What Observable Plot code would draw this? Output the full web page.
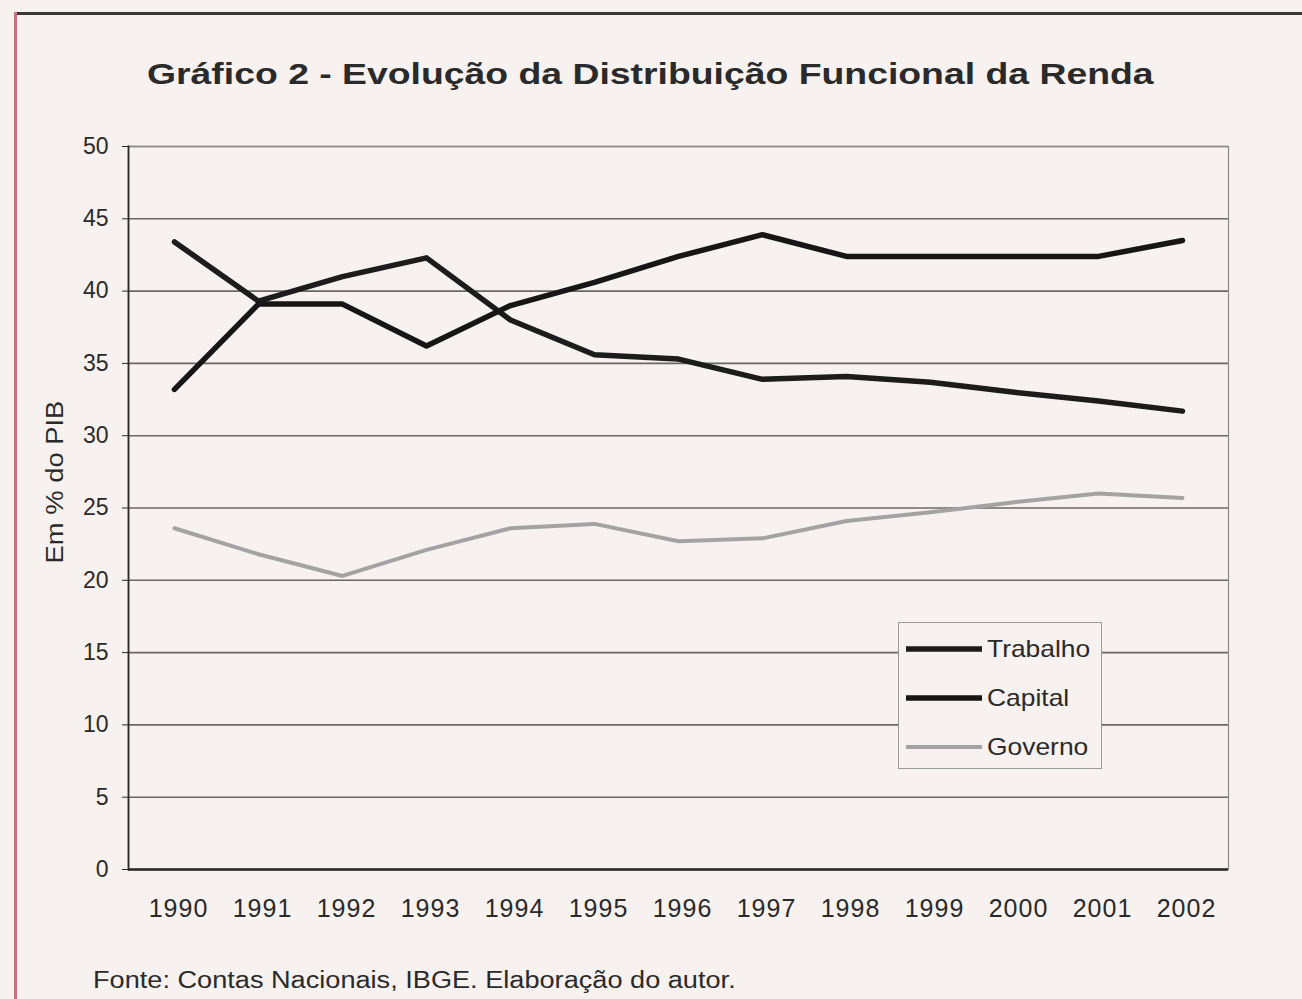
<!DOCTYPE html>
<html>
<head>
<meta charset="utf-8">
<script src="https://cdn.jsdelivr.net/npm/d3@7"></script>
<script src="https://cdn.jsdelivr.net/npm/@observablehq/plot@0.6"></script>
<style>
  html, body { margin: 0; padding: 0; background: #f7f1f0; }
  body { width: 1302px; height: 999px; position: relative; overflow: hidden; font-family: "Liberation Sans", Arial, sans-serif; color: #222; }
  #chart { position: absolute; left: 0; top: 0; }
  #title { position: absolute; left: 147px; top: 57px; font-size: 30px; font-weight: bold; color: #2a2a2a; white-space: nowrap; transform: scaleX(1.245); transform-origin: left center; }
  #caption { position: absolute; left: 93px; top: 967px; font-size: 23px; color: #2a2a2a; white-space: nowrap; transform: scaleX(1.18); transform-origin: left center; }
  #ylabel { position: absolute; left: 55px; top: 482px; transform: translate(-50%, -50%) rotate(-90deg) scaleX(1.19); font-size: 23px; color: #2a2a2a; white-space: nowrap; }
  #legend { position: absolute; left: 898px; top: 622px; width: 204px; height: 147px; border: 1.5px solid #9a9a9a; background: #f7f1f0; box-sizing: border-box; }
  .row { position: absolute; left: 6px; height: 30px; display: flex; align-items: center; font-size: 24px; color: #2a2a2a; }
  .row span { display: inline-block; transform: scaleX(1.1); transform-origin: left center; }
  .row svg { margin-right: 4px; }
  #topline { position: absolute; left: 14px; right: 0; top: 12px; height: 3px; background: #3a3a3a; }
  #leftline { position: absolute; left: 14px; top: 12px; bottom: 0; width: 3px; background: #c8707e; }
</style>
</head>
<body>
<div id="topline"></div>
<div id="leftline"></div>
<div id="chart"></div>
<div id="title">Gráfico 2 - Evolução da Distribuição Funcional da Renda</div>
<div id="ylabel">Em % do PIB</div>
<div id="legend"></div>
<div id="caption">Fonte: Contas Nacionais, IBGE. Elaboração do autor.</div>
<script>
const years = ["1990","1991","1992","1993","1994","1995","1996","1997","1998","1999","2000","2001","2002"];
const trabalho = [43.4, 39.3, 41.0, 42.3, 38.0, 35.6, 35.3, 33.9, 34.1, 33.7, 33.0, 32.4, 31.7];
const capital  = [33.2, 39.1, 39.1, 36.2, 39.0, 40.6, 42.4, 43.9, 42.4, 42.4, 42.4, 42.4, 43.5];
const governo  = [23.6, 21.8, 20.3, 22.1, 23.6, 23.9, 22.7, 22.9, 24.1, 24.7, 25.4, 26.0, 25.7];
const series = ["Trabalho", "Capital", "Governo"];
const colors = ["#1c1c1c", "#161616", "#a3a3a3"];
const widths = [5.5, 5.5, 4];
const yTicks = [0, 5, 10, 15, 20, 25, 30, 35, 40, 45, 50];

const values = [trabalho, capital, governo];
const data = [];
series.forEach((s, i) => years.forEach((y, j) => data.push({serie: s, year: y, value: values[i][j]})));

const chart = Plot.plot({
  width: 1302,
  height: 999,
  marginLeft: 128,
  marginRight: 74,
  marginTop: 146,
  marginBottom: 130,
  style: {background: "transparent", fontFamily: "'Liberation Sans', Arial, sans-serif", fontSize: "20px", color: "#2a2a2a", overflow: "visible"},
  x: {type: "point", domain: years, padding: 0.5, label: null},
  y: {domain: [0, 50], label: null},
  marks: [
    Plot.gridY(yTicks, {stroke: "#3a3a3a", strokeOpacity: 0.75, strokeWidth: 1.6}),
    Plot.frame({stroke: "#8a8a8a", strokeWidth: 1.2}),
    Plot.frame({anchor: "left", stroke: "#2a2a2a", strokeWidth: 1.8}),
    Plot.ruleY([0], {stroke: "#2a2a2a", strokeWidth: 2.5}),
    Plot.axisY({ticks: yTicks, tickSize: 6, tickPadding: 14, fontSize: 23, label: null, stroke: "#2a2a2a"}),
    Plot.axisX({tickSize: 0, tickPadding: 30, fontSize: 25, label: null}),
    ...series.map((s, i) => Plot.line(data.filter(d => d.serie === s), {
      x: "year", y: "value", stroke: colors[i], strokeWidth: widths[i], strokeLinejoin: "round", strokeLinecap: "round"
    }))
  ]
});
d3.select(chart).selectAll("g[aria-label='x-axis tick label'] text").attr("letter-spacing", "1px").attr("dx", "4px");
document.getElementById("chart").appendChild(chart);

const legend = document.getElementById("legend");
series.forEach((s, i) => {
  const row = document.createElement("div");
  row.className = "row";
  row.style.top = (11 + i * 49) + "px";
  row.innerHTML = `<svg width="78" height="10"><line x1="1" y1="5" x2="77" y2="5" stroke="${colors[i]}" stroke-width="${widths[i]}"/></svg><span>${s}</span>`;
  legend.appendChild(row);
});
</script>
</body>
</html>
